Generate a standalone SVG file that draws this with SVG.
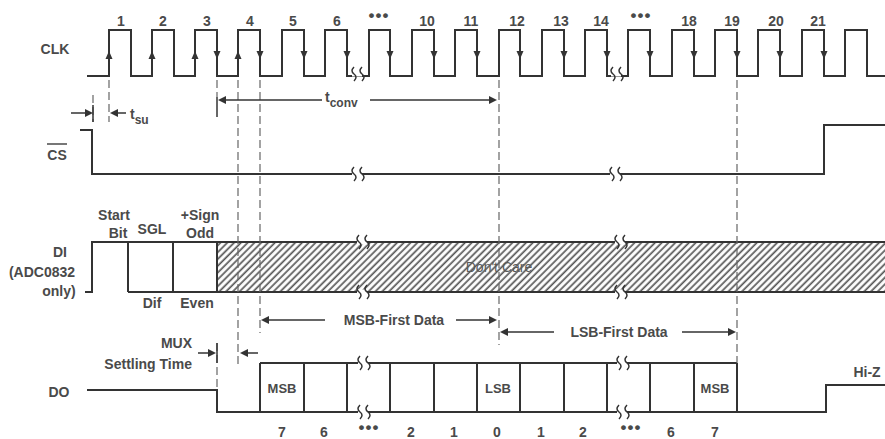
<svg xmlns="http://www.w3.org/2000/svg" width="885" height="439" viewBox="0 0 885 439">
<style>
.t{font-family:"Liberation Sans",Arial,sans-serif;font-size:14px;font-weight:bold;fill:#4a4a4a;text-anchor:middle}
.s{font-size:12px}
.c{font-size:13px}
.w{fill:none;stroke:#333;stroke-width:2}
.d{fill:none;stroke:#666;stroke-width:1.2;stroke-dasharray:8,4}
.a{fill:none;stroke:#333;stroke-width:1.5}
.h{fill:#333}
</style>
<defs>
<pattern id="hatch" width="4.8" height="10" patternUnits="userSpaceOnUse" patternTransform="rotate(45)">
<rect width="4.8" height="10" fill="#fff"/>
<line x1="1.2" y1="0" x2="1.2" y2="10" stroke="#555" stroke-width="1.7"/>
</pattern>
<path id="up" d="M-3.5,4 L3.5,4 L0,-4 Z" class="h"/>
<path id="dn" d="M-3.5,-4 L3.5,-4 L0,4 Z" class="h"/>
<path id="ar" d="M0,0 L-8,-4 L-8,4 Z" class="h"/>
<path id="al" d="M0,0 L8,-4 L8,4 Z" class="h"/>
<g id="brk">
<rect x="-5" y="-2.5" width="10" height="5" fill="#fff"/>
<path d="M-3,-7 Q-7,-3 -3,0 Q1,3 -3,7 M5,-7 Q1,-3 5,0 Q9,3 5,7" fill="none" stroke="#333" stroke-width="1.5"/>
</g>
</defs>

<g id="clk">
<text class="t" x="55" y="54">CLK</text>
<path class="w" d="M87,76 H109 V30 H131 V76 H152 V30 H174 V76 H195 V30 H217 V76 H238 V30 H260 V76 H282 V30 H304 V76 H325 V30 H347 V76 H369 V30 H390 V76 H412 V30 H434 V76 H455 V30 H477 V76 H499 V30 H520 V76 H542 V30 H564 V76 H585 V30 H607 V76 H628 V30 H650 V76 H672 V30 H694 V76 H715 V30 H737 V76 H758 V30 H780 V76 H802 V30 H824 V76 H845 V30 H867 V76 H885"/>
<use href="#up" x="109" y="55"/><use href="#up" x="152" y="55"/><use href="#up" x="195" y="55"/><use href="#up" x="238" y="55"/>
<use href="#dn" x="217" y="55"/><use href="#dn" x="260" y="55"/><use href="#dn" x="304" y="55"/><use href="#dn" x="347" y="55"/><use href="#dn" x="390" y="55"/><use href="#dn" x="434" y="55"/><use href="#dn" x="477" y="55"/><use href="#dn" x="520" y="55"/><use href="#dn" x="564" y="55"/><use href="#dn" x="607" y="55"/><use href="#dn" x="650" y="55"/><use href="#dn" x="694" y="55"/><use href="#dn" x="737" y="55"/><use href="#dn" x="780" y="55"/><use href="#dn" x="824" y="55"/>
<use href="#brk" x="357" y="74"/><use href="#brk" x="616" y="74"/>
<text class="t" y="26"><tspan x="121">1</tspan><tspan x="163">2</tspan><tspan x="207">3</tspan><tspan x="250">4</tspan><tspan x="293">5</tspan><tspan x="337">6</tspan><tspan x="427">10</tspan><tspan x="471">11</tspan><tspan x="517">12</tspan><tspan x="561">13</tspan><tspan x="601">14</tspan><tspan x="689">18</tspan><tspan x="732">19</tspan><tspan x="776">20</tspan><tspan x="818">21</tspan></text>
<text class="t" style="font-size:17px;letter-spacing:1px" y="21"><tspan x="379">•••</tspan><tspan x="641">•••</tspan></text>
</g>

<g id="cs">
<text class="t" x="57" y="160">CS</text>
<line x1="47" y1="144" x2="67" y2="144" stroke="#4a4a4a" stroke-width="1.5"/>
<path class="w" d="M80,130 H92 V174 H824 V125 H885"/>
<use href="#brk" x="357" y="174"/><use href="#brk" x="615" y="174"/>
</g>

<g id="di">
<text class="t" x="60" y="257">DI</text>
<text class="t" x="42" y="277">(ADC0832</text>
<text class="t" x="59" y="296">only)</text>
<rect x="217" y="242" width="670" height="50" fill="url(#hatch)"/>
<text class="t" x="499" y="272" style="fill:#5a5a5a;font-weight:normal">Don't Care</text>
<path class="w" d="M85,292 H92 V242 H887 M128,292 H887 M128,242 V292 M173,242 V292 M217,242 V292"/>
<use href="#brk" x="362" y="242"/><use href="#brk" x="362" y="292"/><use href="#brk" x="620" y="242"/><use href="#brk" x="620" y="292"/>
<text class="t" x="114" y="220">Start</text>
<text class="t" x="118" y="238">Bit</text>
<text class="t" x="152" y="234">SGL</text>
<text class="t" x="200" y="220">+Sign</text>
<text class="t" x="200" y="238">Odd</text>
<text class="t" x="152" y="308">Dif</text>
<text class="t" x="197" y="308">Even</text>
</g>

<g id="do">
<text class="t" x="59" y="397">DO</text>
<path class="w" d="M87,390 H217 V412 H826 V385 H885 M260,363 H737 M260,363 V412 M304,363 V412 M347,363 V412 M390,363 V412 M434,363 V412 M477,363 V412 M520,363 V412 M564,363 V412 M607,363 V412 M650,363 V412 M694,363 V412 M737,363 V412"/>
<use href="#brk" x="363" y="363"/><use href="#brk" x="363" y="412"/><use href="#brk" x="622" y="363"/><use href="#brk" x="622" y="412"/>
<text class="t c" x="282" y="393">MSB</text>
<text class="t c" x="498" y="393">LSB</text>
<text class="t c" x="715" y="393">MSB</text>
<text class="t" y="437"><tspan x="282">7</tspan><tspan x="324">6</tspan><tspan x="411">2</tspan><tspan x="454">1</tspan><tspan x="497">0</tspan><tspan x="541">1</tspan><tspan x="583">2</tspan><tspan x="671">6</tspan><tspan x="715">7</tspan></text>
<text class="t" style="font-size:17px;letter-spacing:1px" y="433"><tspan x="369">•••</tspan><tspan x="631">•••</tspan></text>
<text class="t" x="867" y="377">Hi-Z</text>
</g>

<g id="connectors">
<path class="d" d="M109,80 V122 M93,95 V122 M217,80 V97 M238,80 V365 M260,80 V333 M499,80 V345 M737,80 V363 M217,343 V390"/>
<line class="a" x1="217" y1="97" x2="217" y2="117"/>
<line class="a" x1="93" y1="105" x2="93" y2="122"/>
<line class="a" x1="71" y1="113" x2="86" y2="113"/><use href="#ar" x="93" y="113"/>
<line class="a" x1="116" y1="113" x2="126" y2="113"/><use href="#al" x="110" y="113"/>
<text class="t" x="130" y="119" style="text-anchor:start">t<tspan class="s" dy="5">su</tspan></text>
<line class="a" x1="224" y1="100" x2="322" y2="100"/><use href="#al" x="218" y="100"/>
<line class="a" x1="370" y1="100" x2="490" y2="100"/><use href="#ar" x="497" y="100"/>
<text class="t" x="325" y="102" style="text-anchor:start">t<tspan class="s" dy="5">conv</tspan></text>
<line class="a" x1="267" y1="320" x2="325" y2="320"/><use href="#al" x="261" y="320"/>
<line class="a" x1="456" y1="320" x2="490" y2="320"/><use href="#ar" x="497" y="320"/>
<text class="t" x="394" y="325">MSB-First Data</text>
<line class="a" x1="506" y1="332" x2="554" y2="332"/><use href="#al" x="500" y="332"/>
<line class="a" x1="682" y1="332" x2="729" y2="332"/><use href="#ar" x="736" y="332"/>
<text class="t" x="619" y="337">LSB-First Data</text>
<text class="t" x="192" y="348" style="text-anchor:end">MUX</text>
<text class="t" x="192" y="369" style="text-anchor:end">Settling Time</text>
<line class="a" x1="198" y1="353" x2="210" y2="353"/><use href="#ar" x="216" y="353"/>
<line class="a" x1="217" y1="343" x2="217" y2="363"/>
<line class="a" x1="246" y1="353" x2="258" y2="353"/><use href="#al" x="240" y="353"/>
</g>
</svg>
